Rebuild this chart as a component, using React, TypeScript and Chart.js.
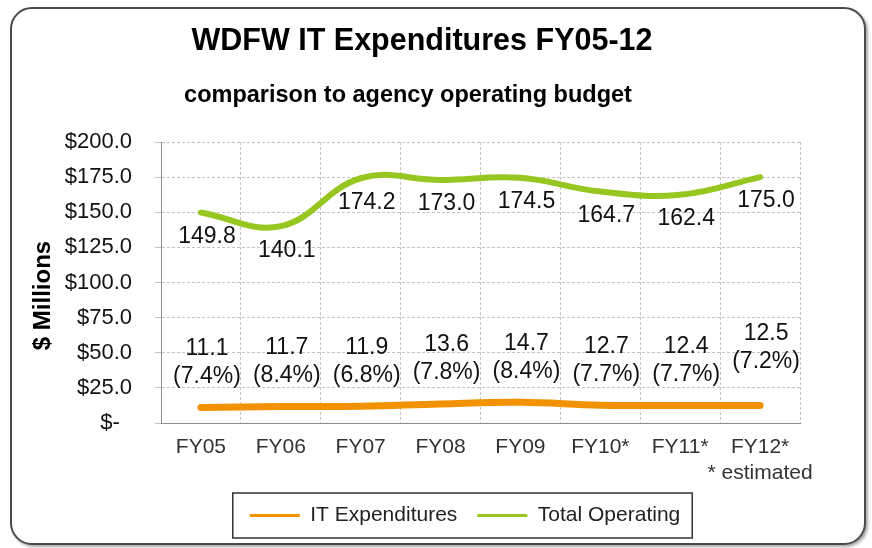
import React, { useEffect, useRef } from 'react';
import { Chart, registerables } from 'chart.js';

Chart.register(...registerables);

const FONT = '"Liberation Sans", Arial, Helvetica, sans-serif';

const titleText = 'WDFW IT Expenditures FY05-12';
const subtitleText = 'comparison to agency operating budget';
const yAxisTitle = '$ Millions';
const estimateNote = '* estimated';

const categories = ['FY05', 'FY06', 'FY07', 'FY08', 'FY09', 'FY10*', 'FY11*', 'FY12*'];
const itExpenditures = [11.1, 11.7, 11.9, 13.6, 14.7, 12.7, 12.4, 12.5];
const totalOperating = [149.8, 140.1, 174.2, 173.0, 174.5, 164.7, 162.4, 175.0];
const itShareLabels = ['(7.4%)', '(8.4%)', '(6.8%)', '(7.8%)', '(8.4%)', '(7.7%)', '(7.7%)', '(7.2%)'];
const yTickLabels = ['$-  ', '$25.0', '$50.0', '$75.0', '$100.0', '$125.0', '$150.0', '$175.0', '$200.0'];

const ORANGE = '#F39200';
const GREEN = '#97C620';

export default function App() {
  const ref = useRef<HTMLCanvasElement>(null);

  useEffect(() => {
    const canvas = ref.current;
    if (!canvas) return;
    Chart.defaults.font.family = FONT;

    const labelPlugin = {
      id: 'valueLabels',
      afterDatasetsDraw(chart: any) {
        const { ctx, scales } = chart;
        const x = scales.x;
        const y = scales.y;
        ctx.save();
        ctx.font = `23px ${FONT}`;
        ctx.fillStyle = '#111';
        ctx.textAlign = 'center';
        ctx.textBaseline = 'middle';
        totalOperating.forEach((v, i) => {
          const px = x.getPixelForValue(i) + 6;
          const py = y.getPixelForValue(v) + 24;
          ctx.fillText(v.toFixed(1), px, py);
        });
        itExpenditures.forEach((v, i) => {
          const px = x.getPixelForValue(i) + 6;
          const lift = i === itExpenditures.length - 1 ? 13 : 0;
          const py = y.getPixelForValue(v) - 31 - lift;
          ctx.fillText(itShareLabels[i], px, py);
          ctx.fillText(v.toFixed(1), px, py - 28);
        });
        ctx.restore();
      },
    };

    const decorPlugin = {
      id: 'decor',
      afterDraw(chart: any) {
        const { ctx, chartArea } = chart;
        ctx.save();
        ctx.fillStyle = '#000';
        ctx.textAlign = 'center';
        ctx.textBaseline = 'alphabetic';
        ctx.font = `bold 30.5px ${FONT}`;
        ctx.fillText(titleText, 422, 50);
        ctx.font = `bold 23.5px ${FONT}`;
        ctx.fillText(subtitleText, 408, 102);
        ctx.translate(chartArea.left - 118, (chartArea.top + chartArea.bottom) / 2 + 13);
        ctx.rotate(-Math.PI / 2);
        ctx.textBaseline = 'middle';
        ctx.font = `bold 24px ${FONT}`;
        ctx.fillText(yAxisTitle, 0, 0);
        ctx.restore();

        const lg = chart.legend;
        if (lg && lg.legendHitBoxes && lg.legendHitBoxes.length) {
          const hb = lg.legendHitBoxes;
          const first = hb[0];
          const last = hb[hb.length - 1];
          const cy = first.top + first.height / 2;
          const left = first.left - 17;
          const right = last.left + last.width + 12;
          ctx.save();
          ctx.strokeStyle = '#333';
          ctx.lineWidth = 1.5;
          ctx.strokeRect(left, cy - 22.5, right - left, 45);
          ctx.restore();
        }
      },
    };

    const chart = new Chart(canvas, {
      type: 'line',
      data: {
        labels: categories,
        datasets: [
          {
            label: 'IT Expenditures',
            data: itExpenditures,
            borderColor: ORANGE,
            backgroundColor: ORANGE,
            borderWidth: 7,
            tension: 0.4,
            pointRadius: 0,
            borderCapStyle: 'round',
          },
          {
            label: 'Total Operating',
            data: totalOperating,
            borderColor: GREEN,
            backgroundColor: GREEN,
            borderWidth: 6,
            tension: 0.4,
            pointRadius: 0,
            borderCapStyle: 'round',
          },
        ],
      },
      options: {
        responsive: false,
        animation: false,
        layout: { padding: { top: 142, left: 62, right: 4, bottom: 12 } },
        plugins: {
          title: { display: false },
          tooltip: { enabled: false },
          legend: {
            position: 'bottom',
            labels: {
              font: { size: 21, family: FONT },
              color: '#222',
              boxWidth: 50,
              boxHeight: 3,
              padding: 20,
              generateLabels: (c: any) =>
                (Chart.defaults.plugins.legend.labels.generateLabels as any)(c).map((l: any) => ({
                  ...l,
                  lineWidth: 0,
                  fillStyle: l.strokeStyle,
                })),
            },
          },
        },
        scales: {
          x: {
            offset: true,
            grid: { offset: true, color: '#c4c4c4', drawTicks: false },
            border: { color: '#8c8c8c', dash: [3, 2] },
            ticks: {
              font: { size: 21, family: FONT },
              color: '#333',
              padding: 12,
              maxRotation: 0,
              autoSkip: false,
              callback: (_v: any, i: number) =>
                i === categories.length - 1 ? [categories[i], estimateNote] : categories[i],
            },
            afterFit: (s: any) => {
              s.height = 62;
            },
          },
          y: {
            min: 0,
            max: 200,
            ticks: {
              stepSize: 25,
              font: { size: 22, family: FONT },
              color: '#111',
              padding: 23,
              callback: (_v: any, i: number) => yTickLabels[i],
            },
            grid: { color: '#c4c4c4', tickLength: 6 },
            border: { color: '#8c8c8c', dash: [3, 2] },
            afterFit: (s: any) => {
              s.width = 99;
            },
          },
          // blank right-hand spacer so the legend centres under the boxed chart like the original
          spacer: {
            type: 'linear',
            position: 'right',
            display: true,
            ticks: { display: false },
            grid: { display: false, drawTicks: false },
            border: { display: false },
            afterFit: (s: any) => {
              s.width = 68;
            },
          },
        },
      },
      plugins: [labelPlugin, decorPlugin],
    } as any);

    return () => chart.destroy();
  }, []);

  return (
    <div style={{ position: 'absolute', left: 0, top: 0, width: 872, height: 548, background: '#fff' }}>
      <div
        style={{
          position: 'absolute',
          left: 10,
          top: 7,
          width: 856,
          height: 538,
          boxSizing: 'border-box',
          border: '2px solid #4a4a4a',
          borderRadius: 22,
          boxShadow: '2px 2px 3px rgba(0,0,0,0.35)',
          background: '#fff',
        }}
      />
      <canvas
        ref={ref}
        width={872}
        height={548}
        style={{ position: 'absolute', left: 0, top: 0, width: 872, height: 548 }}
      />
    </div>
  );
}
